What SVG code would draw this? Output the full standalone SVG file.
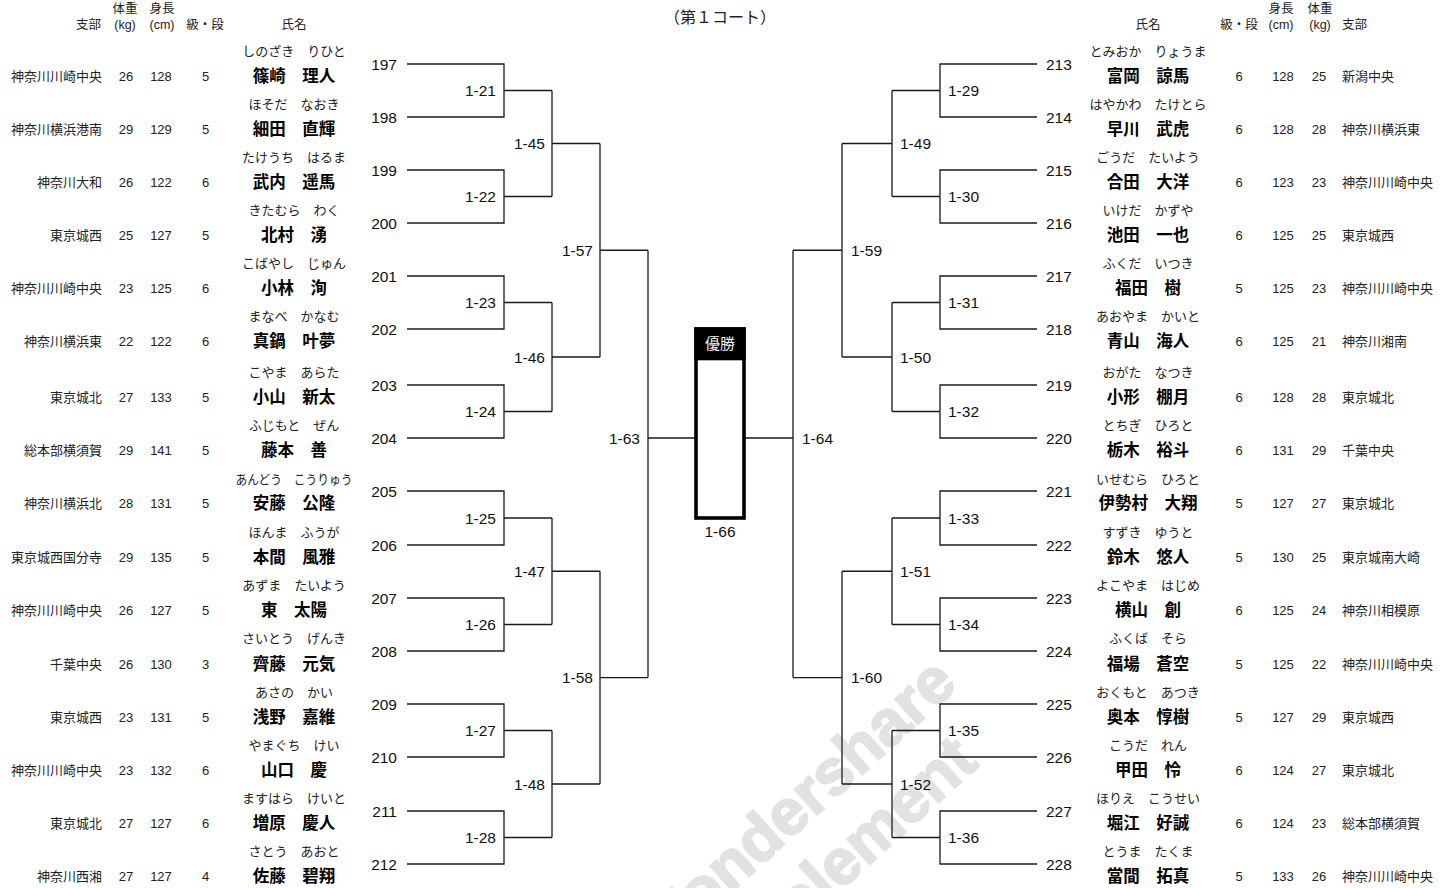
<svg xmlns="http://www.w3.org/2000/svg" width="1454" height="888" viewBox="0 0 1454 888">
<style>
.f{font-family:"Liberation Sans","Noto Sans CJK JP",sans-serif;dominant-baseline:central}
.m{text-anchor:middle}.e{text-anchor:end}.s{text-anchor:start}
.hd{font-size:12.5px;fill:#222}
.tt{font-size:16px;fill:#222}
.num{font-size:15.5px;fill:#111}
.nm{font-size:16.5px;font-weight:bold;fill:#000}
.fu{font-size:13px;fill:#222}
.dt{font-size:13px;fill:#222}
.ln{fill:none;stroke:#1a1a1a;stroke-width:1.3}
.wm{font-family:"Liberation Sans",sans-serif;font-weight:bold;font-size:64px;fill:#e2e2e2;stroke:#e2e2e2;stroke-width:2}
</style>
<rect width="1454" height="888" fill="#fff"/>
<g id="watermark" transform="translate(832,850) rotate(-42)">
<text class="wm m" x="0" y="-36">Wondershare</text>
<text class="wm m" x="-18" y="36">PDFelement</text>
</g>
<g id="title"><text class="f tt m" x="720" y="17">（第１コート）</text></g>
<g id="header-left">
<text class="f hd e" x="101" y="25">支部</text>
<text class="f hd m" x="125" y="9">体重</text><text class="f hd m" x="125" y="25">(kg)</text>
<text class="f hd m" x="162" y="9">身長</text><text class="f hd m" x="162" y="25">(cm)</text>
<text class="f hd m" x="205" y="25">級・段</text>
<text class="f hd m" x="294" y="25">氏名</text>
</g>
<g id="header-right">
<text class="f hd m" x="1148" y="25">氏名</text>
<text class="f hd m" x="1239" y="25">級・段</text>
<text class="f hd m" x="1281" y="9">身長</text><text class="f hd m" x="1281" y="25">(cm)</text>
<text class="f hd m" x="1320" y="9">体重</text><text class="f hd m" x="1320" y="25">(kg)</text>
<text class="f hd s" x="1342" y="25">支部</text>
</g>
<g id="connectors" class="ln">
<path d="M407,64H504V117H407M504,90.5H552M407,170H504V223H407M504,196.5H552M407,276H504V329H407M504,302.5H552M407,385H504V438H407M504,411.5H552M407,491H504V545H407M504,518H552M407,598H504V651H407M504,624.5H552M407,704H504V757H407M504,730.5H552M407,811H504V864H407M504,837.5H552"/>
<path d="M552,90.5V196.5M552,143.5H600M552,302.5V411.5M552,357H600M552,518V624.5M552,571.25H600M552,730.5V837.5M552,784H600"/>
<path d="M600,143.5V357M600,250.25H648M600,571.25V784M600,677.6H648M648,250.25V677.6M648,438H696"/>
<path d="M1037,64H940V117H1037M940,90.5H892M1037,170H940V223H1037M940,196.5H892M1037,276H940V329H1037M940,302.5H892M1037,385H940V438H1037M940,411.5H892M1037,491H940V545H1037M940,518H892M1037,598H940V651H1037M940,624.5H892M1037,704H940V757H1037M940,730.5H892M1037,811H940V864H1037M940,837.5H892"/>
<path d="M892,90.5V196.5M892,143.5H842M892,302.5V411.5M892,357H842M892,518V624.5M892,571.25H842M892,730.5V837.5M892,784H842"/>
<path d="M842,143.5V357M842,250.25H793M842,571.25V784M842,677.6H793M793,250.25V677.6M793,438H744"/>
</g>
<g id="match-labels">
<text class="f num e" x="496" y="90.5">1-21</text>
<text class="f num e" x="496" y="196.5">1-22</text>
<text class="f num e" x="496" y="302.5">1-23</text>
<text class="f num e" x="496" y="411.5">1-24</text>
<text class="f num e" x="496" y="518">1-25</text>
<text class="f num e" x="496" y="624.5">1-26</text>
<text class="f num e" x="496" y="730.5">1-27</text>
<text class="f num e" x="496" y="837.5">1-28</text>
<text class="f num e" x="545" y="143.5">1-45</text>
<text class="f num e" x="545" y="357">1-46</text>
<text class="f num e" x="545" y="571.25">1-47</text>
<text class="f num e" x="545" y="784">1-48</text>
<text class="f num e" x="593" y="250.25">1-57</text>
<text class="f num e" x="593" y="677.6">1-58</text>
<text class="f num e" x="640" y="438">1-63</text>
<text class="f num s" x="948" y="90.5">1-29</text>
<text class="f num s" x="948" y="196.5">1-30</text>
<text class="f num s" x="948" y="302.5">1-31</text>
<text class="f num s" x="948" y="411.5">1-32</text>
<text class="f num s" x="948" y="518">1-33</text>
<text class="f num s" x="948" y="624.5">1-34</text>
<text class="f num s" x="948" y="730.5">1-35</text>
<text class="f num s" x="948" y="837.5">1-36</text>
<text class="f num s" x="900" y="143.5">1-49</text>
<text class="f num s" x="900" y="357">1-50</text>
<text class="f num s" x="900" y="571.25">1-51</text>
<text class="f num s" x="900" y="784">1-52</text>
<text class="f num s" x="851" y="250.25">1-59</text>
<text class="f num s" x="851" y="677.6">1-60</text>
<text class="f num s" x="802" y="438">1-64</text>
</g>
<g id="champion">
<rect x="696" y="329" width="48" height="189" fill="#fff" stroke="#000" stroke-width="3.6"/>
<rect x="694.3" y="327.3" width="51.4" height="33" fill="#000"/>
<text class="f m" x="720" y="343.5" style="font-size:15px;fill:#f2f2f2">優勝</text>
<text class="f num m" x="720" y="531.5">1-66</text>
</g>
<g id="p197"><text class="f num e" x="397" y="64">197</text><text class="f fu m" x="294" y="51">しのざき　りひと</text><text class="f nm m" x="294" y="76">篠崎　理人</text><text class="f dt e" x="102" y="76">神奈川川崎中央</text><text class="f dt m" x="126" y="76">26</text><text class="f dt m" x="161" y="76">128</text><text class="f dt m" x="205.5" y="76">5</text></g>
<g id="p198"><text class="f num e" x="397" y="117">198</text><text class="f fu m" x="294" y="104">ほそだ　なおき</text><text class="f nm m" x="294" y="129">細田　直輝</text><text class="f dt e" x="102" y="129">神奈川横浜港南</text><text class="f dt m" x="126" y="129">29</text><text class="f dt m" x="161" y="129">129</text><text class="f dt m" x="205.5" y="129">5</text></g>
<g id="p199"><text class="f num e" x="397" y="170">199</text><text class="f fu m" x="294" y="157">たけうち　はるま</text><text class="f nm m" x="294" y="182">武内　遥馬</text><text class="f dt e" x="102" y="182">神奈川大和</text><text class="f dt m" x="126" y="182">26</text><text class="f dt m" x="161" y="182">122</text><text class="f dt m" x="205.5" y="182">6</text></g>
<g id="p200"><text class="f num e" x="397" y="223">200</text><text class="f fu m" x="294" y="210">きたむら　わく</text><text class="f nm m" x="294" y="235">北村　湧</text><text class="f dt e" x="102" y="235">東京城西</text><text class="f dt m" x="126" y="235">25</text><text class="f dt m" x="161" y="235">127</text><text class="f dt m" x="205.5" y="235">5</text></g>
<g id="p201"><text class="f num e" x="397" y="276">201</text><text class="f fu m" x="294" y="263">こばやし　じゅん</text><text class="f nm m" x="294" y="288">小林　洵</text><text class="f dt e" x="102" y="288">神奈川川崎中央</text><text class="f dt m" x="126" y="288">23</text><text class="f dt m" x="161" y="288">125</text><text class="f dt m" x="205.5" y="288">6</text></g>
<g id="p202"><text class="f num e" x="397" y="329">202</text><text class="f fu m" x="294" y="316">まなべ　かなむ</text><text class="f nm m" x="294" y="341">真鍋　叶夢</text><text class="f dt e" x="102" y="341">神奈川横浜東</text><text class="f dt m" x="126" y="341">22</text><text class="f dt m" x="161" y="341">122</text><text class="f dt m" x="205.5" y="341">6</text></g>
<g id="p203"><text class="f num e" x="397" y="385">203</text><text class="f fu m" x="294" y="372">こやま　あらた</text><text class="f nm m" x="294" y="397">小山　新太</text><text class="f dt e" x="102" y="397">東京城北</text><text class="f dt m" x="126" y="397">27</text><text class="f dt m" x="161" y="397">133</text><text class="f dt m" x="205.5" y="397">5</text></g>
<g id="p204"><text class="f num e" x="397" y="438">204</text><text class="f fu m" x="294" y="425">ふじもと　ぜん</text><text class="f nm m" x="294" y="450">藤本　善</text><text class="f dt e" x="102" y="450">総本部横須賀</text><text class="f dt m" x="126" y="450">29</text><text class="f dt m" x="161" y="450">141</text><text class="f dt m" x="205.5" y="450">5</text></g>
<g id="p205"><text class="f num e" x="397" y="491">205</text><text class="f fu m" x="294" y="479" textLength="117" lengthAdjust="spacingAndGlyphs">あんどう　こうりゅう</text><text class="f nm m" x="294" y="503">安藤　公隆</text><text class="f dt e" x="102" y="503">神奈川横浜北</text><text class="f dt m" x="126" y="503">28</text><text class="f dt m" x="161" y="503">131</text><text class="f dt m" x="205.5" y="503">5</text></g>
<g id="p206"><text class="f num e" x="397" y="545">206</text><text class="f fu m" x="294" y="532">ほんま　ふうが</text><text class="f nm m" x="294" y="557">本間　風雅</text><text class="f dt e" x="102" y="557">東京城西国分寺</text><text class="f dt m" x="126" y="557">29</text><text class="f dt m" x="161" y="557">135</text><text class="f dt m" x="205.5" y="557">5</text></g>
<g id="p207"><text class="f num e" x="397" y="598">207</text><text class="f fu m" x="294" y="585">あずま　たいよう</text><text class="f nm m" x="294" y="610">東　太陽</text><text class="f dt e" x="102" y="610">神奈川川崎中央</text><text class="f dt m" x="126" y="610">26</text><text class="f dt m" x="161" y="610">127</text><text class="f dt m" x="205.5" y="610">5</text></g>
<g id="p208"><text class="f num e" x="397" y="651">208</text><text class="f fu m" x="294" y="638">さいとう　げんき</text><text class="f nm m" x="294" y="664">齊藤　元気</text><text class="f dt e" x="102" y="664">千葉中央</text><text class="f dt m" x="126" y="664">26</text><text class="f dt m" x="161" y="664">130</text><text class="f dt m" x="205.5" y="664">3</text></g>
<g id="p209"><text class="f num e" x="397" y="704">209</text><text class="f fu m" x="294" y="692">あさの　かい</text><text class="f nm m" x="294" y="717">浅野　嘉維</text><text class="f dt e" x="102" y="717">東京城西</text><text class="f dt m" x="126" y="717">23</text><text class="f dt m" x="161" y="717">131</text><text class="f dt m" x="205.5" y="717">5</text></g>
<g id="p210"><text class="f num e" x="397" y="757">210</text><text class="f fu m" x="294" y="745">やまぐち　けい</text><text class="f nm m" x="294" y="770">山口　慶</text><text class="f dt e" x="102" y="770">神奈川川崎中央</text><text class="f dt m" x="126" y="770">23</text><text class="f dt m" x="161" y="770">132</text><text class="f dt m" x="205.5" y="770">6</text></g>
<g id="p211"><text class="f num e" x="397" y="811">211</text><text class="f fu m" x="294" y="798">ますはら　けいと</text><text class="f nm m" x="294" y="823">増原　慶人</text><text class="f dt e" x="102" y="823">東京城北</text><text class="f dt m" x="126" y="823">27</text><text class="f dt m" x="161" y="823">127</text><text class="f dt m" x="205.5" y="823">6</text></g>
<g id="p212"><text class="f num e" x="397" y="864">212</text><text class="f fu m" x="294" y="851">さとう　あおと</text><text class="f nm m" x="294" y="876">佐藤　碧翔</text><text class="f dt e" x="102" y="876">神奈川西湘</text><text class="f dt m" x="126" y="876">27</text><text class="f dt m" x="161" y="876">127</text><text class="f dt m" x="205.5" y="876">4</text></g>
<g id="p213"><text class="f num s" x="1046" y="64">213</text><text class="f fu m" x="1148" y="51">とみおか　りょうま</text><text class="f nm m" x="1148" y="76">富岡　諒馬</text><text class="f dt m" x="1239" y="76">6</text><text class="f dt m" x="1283" y="76">128</text><text class="f dt m" x="1319" y="76">25</text><text class="f dt s" x="1342" y="76">新潟中央</text></g>
<g id="p214"><text class="f num s" x="1046" y="117">214</text><text class="f fu m" x="1148" y="104">はやかわ　たけとら</text><text class="f nm m" x="1148" y="129">早川　武虎</text><text class="f dt m" x="1239" y="129">6</text><text class="f dt m" x="1283" y="129">128</text><text class="f dt m" x="1319" y="129">28</text><text class="f dt s" x="1342" y="129">神奈川横浜東</text></g>
<g id="p215"><text class="f num s" x="1046" y="170">215</text><text class="f fu m" x="1148" y="157">ごうだ　たいよう</text><text class="f nm m" x="1148" y="182">合田　大洋</text><text class="f dt m" x="1239" y="182">6</text><text class="f dt m" x="1283" y="182">123</text><text class="f dt m" x="1319" y="182">23</text><text class="f dt s" x="1342" y="182">神奈川川崎中央</text></g>
<g id="p216"><text class="f num s" x="1046" y="223">216</text><text class="f fu m" x="1148" y="210">いけだ　かずや</text><text class="f nm m" x="1148" y="235">池田　一也</text><text class="f dt m" x="1239" y="235">6</text><text class="f dt m" x="1283" y="235">125</text><text class="f dt m" x="1319" y="235">25</text><text class="f dt s" x="1342" y="235">東京城西</text></g>
<g id="p217"><text class="f num s" x="1046" y="276">217</text><text class="f fu m" x="1148" y="263">ふくだ　いつき</text><text class="f nm m" x="1148" y="288">福田　樹</text><text class="f dt m" x="1239" y="288">5</text><text class="f dt m" x="1283" y="288">125</text><text class="f dt m" x="1319" y="288">23</text><text class="f dt s" x="1342" y="288">神奈川川崎中央</text></g>
<g id="p218"><text class="f num s" x="1046" y="329">218</text><text class="f fu m" x="1148" y="316">あおやま　かいと</text><text class="f nm m" x="1148" y="341">青山　海人</text><text class="f dt m" x="1239" y="341">6</text><text class="f dt m" x="1283" y="341">125</text><text class="f dt m" x="1319" y="341">21</text><text class="f dt s" x="1342" y="341">神奈川湘南</text></g>
<g id="p219"><text class="f num s" x="1046" y="385">219</text><text class="f fu m" x="1148" y="372">おがた　なつき</text><text class="f nm m" x="1148" y="397">小形　棚月</text><text class="f dt m" x="1239" y="397">6</text><text class="f dt m" x="1283" y="397">128</text><text class="f dt m" x="1319" y="397">28</text><text class="f dt s" x="1342" y="397">東京城北</text></g>
<g id="p220"><text class="f num s" x="1046" y="438">220</text><text class="f fu m" x="1148" y="425">とちぎ　ひろと</text><text class="f nm m" x="1148" y="450">栃木　裕斗</text><text class="f dt m" x="1239" y="450">6</text><text class="f dt m" x="1283" y="450">131</text><text class="f dt m" x="1319" y="450">29</text><text class="f dt s" x="1342" y="450">千葉中央</text></g>
<g id="p221"><text class="f num s" x="1046" y="491">221</text><text class="f fu m" x="1148" y="479">いせむら　ひろと</text><text class="f nm m" x="1148" y="503">伊勢村　大翔</text><text class="f dt m" x="1239" y="503">5</text><text class="f dt m" x="1283" y="503">127</text><text class="f dt m" x="1319" y="503">27</text><text class="f dt s" x="1342" y="503">東京城北</text></g>
<g id="p222"><text class="f num s" x="1046" y="545">222</text><text class="f fu m" x="1148" y="532">すずき　ゆうと</text><text class="f nm m" x="1148" y="557">鈴木　悠人</text><text class="f dt m" x="1239" y="557">5</text><text class="f dt m" x="1283" y="557">130</text><text class="f dt m" x="1319" y="557">25</text><text class="f dt s" x="1342" y="557">東京城南大崎</text></g>
<g id="p223"><text class="f num s" x="1046" y="598">223</text><text class="f fu m" x="1148" y="585">よこやま　はじめ</text><text class="f nm m" x="1148" y="610">横山　創</text><text class="f dt m" x="1239" y="610">6</text><text class="f dt m" x="1283" y="610">125</text><text class="f dt m" x="1319" y="610">24</text><text class="f dt s" x="1342" y="610">神奈川相模原</text></g>
<g id="p224"><text class="f num s" x="1046" y="651">224</text><text class="f fu m" x="1148" y="638">ふくば　そら</text><text class="f nm m" x="1148" y="664">福場　蒼空</text><text class="f dt m" x="1239" y="664">5</text><text class="f dt m" x="1283" y="664">125</text><text class="f dt m" x="1319" y="664">22</text><text class="f dt s" x="1342" y="664">神奈川川崎中央</text></g>
<g id="p225"><text class="f num s" x="1046" y="704">225</text><text class="f fu m" x="1148" y="692">おくもと　あつき</text><text class="f nm m" x="1148" y="717">奥本　惇樹</text><text class="f dt m" x="1239" y="717">5</text><text class="f dt m" x="1283" y="717">127</text><text class="f dt m" x="1319" y="717">29</text><text class="f dt s" x="1342" y="717">東京城西</text></g>
<g id="p226"><text class="f num s" x="1046" y="757">226</text><text class="f fu m" x="1148" y="745">こうだ　れん</text><text class="f nm m" x="1148" y="770">甲田　怜</text><text class="f dt m" x="1239" y="770">6</text><text class="f dt m" x="1283" y="770">124</text><text class="f dt m" x="1319" y="770">27</text><text class="f dt s" x="1342" y="770">東京城北</text></g>
<g id="p227"><text class="f num s" x="1046" y="811">227</text><text class="f fu m" x="1148" y="798">ほりえ　こうせい</text><text class="f nm m" x="1148" y="823">堀江　好誠</text><text class="f dt m" x="1239" y="823">6</text><text class="f dt m" x="1283" y="823">124</text><text class="f dt m" x="1319" y="823">23</text><text class="f dt s" x="1342" y="823">総本部横須賀</text></g>
<g id="p228"><text class="f num s" x="1046" y="864">228</text><text class="f fu m" x="1148" y="851">とうま　たくま</text><text class="f nm m" x="1148" y="876">當間　拓真</text><text class="f dt m" x="1239" y="876">5</text><text class="f dt m" x="1283" y="876">133</text><text class="f dt m" x="1319" y="876">26</text><text class="f dt s" x="1342" y="876">神奈川川崎中央</text></g>
</svg>
